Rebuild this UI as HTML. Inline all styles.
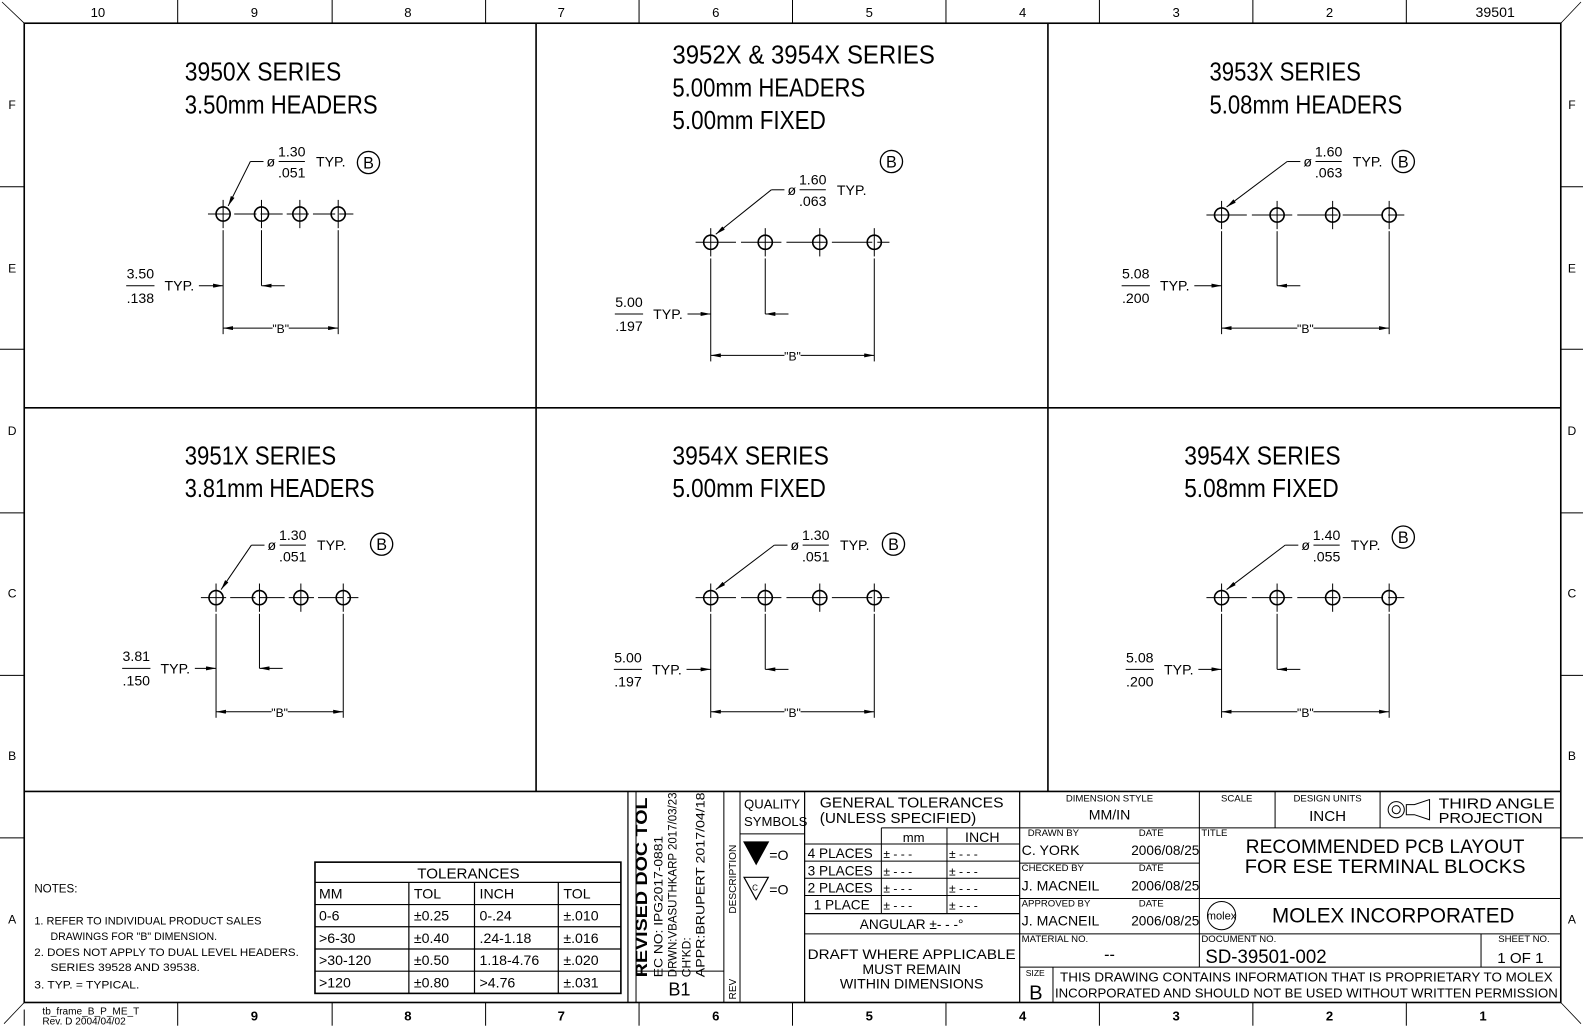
<!DOCTYPE html>
<html><head><meta charset="utf-8"><style>
html,body{margin:0;padding:0;background:#fff;}
svg{display:block}
text{font-family:"Liberation Sans Narrow","Liberation Sans",sans-serif;fill:#000;}
</style></head><body>
<svg id="s" width="1583" height="1026" viewBox="0 0 1568 1016.3" preserveAspectRatio="none" xmlns="http://www.w3.org/2000/svg">
<defs>
<marker id="ah" viewBox="0 0 10 4" refX="10" refY="2" markerWidth="10" markerHeight="4" markerUnits="userSpaceOnUse" orient="auto-start-reverse"><path d="M0,0 L10,2 L0,4 z" fill="#000"/></marker>
</defs>
<g id="g" stroke="#000" fill="none" stroke-width="1.2">
<rect x="24" y="23" width="1522" height="970" stroke-width="1.6"/>
<line x1="24" y1="23" x2="2" y2="2" stroke-width="0.8"/>
<line x1="1546" y1="23" x2="1566" y2="2" stroke-width="0.8"/>
<line x1="24" y1="993" x2="4" y2="1014" stroke-width="0.8"/>
<line x1="1546" y1="993" x2="1566" y2="1014" stroke-width="0.8"/>
<line x1="24" y1="404" x2="1546" y2="404" stroke-width="1.6"/>
<line x1="531" y1="23" x2="531" y2="784" stroke-width="1.6"/>
<line x1="1038" y1="23" x2="1038" y2="784" stroke-width="1.6"/>
<line x1="24" y1="784" x2="1546" y2="784" stroke-width="1.6"/>
</g>
</svg>
<script>
var s=document.getElementById('g'),NS="http://www.w3.org/2000/svg";
function el(t,a,txt,parent){var e=document.createElementNS(NS,t);for(var k in a)e.setAttribute(k,a[k]);if(txt!=null)e.textContent=txt;(parent||s).appendChild(e);return e;}
function L(x1,y1,x2,y2,w,extra){var a={x1:x1,y1:y1,x2:x2,y2:y2};if(w)a['stroke-width']=w;if(extra)for(var k in extra)a[k]=extra[k];return el('line',a);}
function T(x,y,t,fs,extra){var a={x:x,y:y,'font-size':fs||12,stroke:'none',fill:'#000'};if(extra)for(var k in extra)a[k]=extra[k];return el('text',a,t);}
var zx=[176,329,481,633,785,937,1089,1241,1393];
zx.forEach(function(x){L(x,0,x,23,1);L(x,993,x,1016,1);});
L(24,1000,24,1016,1);
var zl=['10','9','8','7','6','5','4','3','2'];var zc=[97,252,404,556,709,861,1013,1165,1317];
zl.forEach(function(t,i){T(zc[i],17,t,13,{'text-anchor':'middle'});if(i>0)T(zc[i],1011,t,13,{'text-anchor':'middle','font-weight':'bold'});});
T(1481,17,'39501',14,{'text-anchor':'middle'});
T(1469,1011,'1',13,{'text-anchor':'middle','font-weight':'bold'});
[185,346,508,669,830].forEach(function(y){L(0,y,24,y,1);L(1546,y,1568,y,1);});
var sl=['F','E','D','C','B','A'],sy=[108,270,431,592,753,915];
sl.forEach(function(t,i){T(12,sy[i],t,12,{'text-anchor':'middle'});T(1557,sy[i],t,12,{'text-anchor':'middle'});});
function panel(p){
 p.titles.forEach(function(t,i){T(p.tx,p.ty+i*32.5,t[0],26,{textLength:t[1],lengthAdjust:'spacingAndGlyphs'});});
 var xs=p.xs,y=p.y,x0=xs[0],xn=xs[3];
 L(x0-15,y,xn+15,y,1,{'stroke-dasharray':p.dash||'none'});
 xs.forEach(function(x){el('circle',{cx:x,cy:y,r:7,'stroke-width':1.6});L(x,y-14,x,y+14,1);});
 L(x0,y+16,x0,p.bY+6,1);L(xn,y+16,xn,p.bY+6,1);L(xs[1],y+16,xs[1],p.typY,1);
 L(x0,p.bY,(x0+xn)/2-8,p.bY,1,{'marker-start':'url(#ah)'});
 L((x0+xn)/2+8,p.bY,xn,p.bY,1,{'marker-end':'url(#ah)'});
 T((x0+xn)/2,p.bY+5,'"B"',12,{'text-anchor':'middle'});
 var fx=p.fx;
 T(fx+14,p.typY-7,p.t1,14,{'text-anchor':'middle'});L(fx,p.typY,fx+28,p.typY,1);T(fx+14,p.typY+17,p.t2,14,{'text-anchor':'middle'});
 T(fx+38,p.typY+5,'TYP.',14);
 L(fx+72,p.typY,x0,p.typY,1,{'marker-end':'url(#ah)'});
 L(xs[1]+23,p.typY,xs[1],p.typY,1,{'marker-end':'url(#ah)'});
 var lx=p.lx,ly=p.ly;
 L(lx,ly,x0+5,y-8,1,{'marker-end':'url(#ah)'});L(lx,ly,lx+13,ly,1);
 T(lx+16,ly+5,'\u00f8',14);
 T(lx+41,ly-5,p.d1,14,{'text-anchor':'middle'});L(lx+28,ly,lx+54,ly,1);T(lx+41,ly+16,p.d2,14,{'text-anchor':'middle'});
 T(lx+65,ly+5,'TYP.',14);
 el('circle',{cx:p.bx,cy:p.by,r:11,'stroke-width':1.3});T(p.bx,p.by+6,'B',16,{'text-anchor':'middle'});
}
var dsh='40 5';
panel({titles:[['3950X SERIES',155],['3.50mm HEADERS',191]],tx:183,ty:80,xs:[221,259,297,335],y:212,typY:283,bY:325,fx:125,t1:'3.50',t2:'.138',lx:248,ly:160,d1:'1.30',d2:'.051',bx:365,by:161,dash:'22 4'});
panel({titles:[['3952X & 3954X SERIES',260],['5.00mm HEADERS',191],['5.00mm FIXED',152]],tx:666,ty:63,xs:[704,758,812,866],y:240,typY:311,bY:352,fx:609,t1:'5.00',t2:'.197',lx:764,ly:188,d1:'1.60',d2:'.063',bx:883,by:160,dash:dsh});
panel({titles:[['3953X SERIES',150],['5.08mm HEADERS',191]],tx:1198,ty:80,xs:[1210,1265,1320,1376],y:213,typY:283,bY:325,fx:1111,t1:'5.08',t2:'.200',lx:1275,ly:160,d1:'1.60',d2:'.063',bx:1390,by:160,dash:dsh});
panel({titles:[['3951X SERIES',150],['3.81mm HEADERS',188]],tx:183,ty:460,xs:[214,257,298,340],y:592,typY:662,bY:705,fx:121,t1:'3.81',t2:'.150',lx:249,ly:540,d1:'1.30',d2:'.051',bx:378,by:539,dash:'25 4'});
panel({titles:[['3954X SERIES',155],['5.00mm FIXED',152]],tx:666,ty:460,xs:[704,758,812,866],y:592,typY:663,bY:705,fx:608,t1:'5.00',t2:'.197',lx:767,ly:540,d1:'1.30',d2:'.051',bx:885,by:539,dash:dsh});
panel({titles:[['3954X SERIES',155],['5.08mm FIXED',153]],tx:1173,ty:460,xs:[1210,1265,1320,1376],y:592,typY:663,bY:705,fx:1115,t1:'5.08',t2:'.200',lx:1273,ly:540,d1:'1.40',d2:'.055',bx:1390,by:532,dash:dsh});

T(34,884,'NOTES:',11.5);
T(34,916,'1. REFER TO INDIVIDUAL PRODUCT SALES',11,{textLength:225,lengthAdjust:'spacingAndGlyphs'});
T(50,931,'DRAWINGS FOR "B" DIMENSION.',11,{textLength:165,lengthAdjust:'spacingAndGlyphs'});
T(34,947,'2. DOES NOT APPLY TO DUAL LEVEL HEADERS.',11,{textLength:262,lengthAdjust:'spacingAndGlyphs'});
T(50,962,'SERIES 39528 AND 39538.',11,{textLength:148,lengthAdjust:'spacingAndGlyphs'});
T(34,979,'3. TYP. = TYPICAL.',11,{textLength:104,lengthAdjust:'spacingAndGlyphs'});
el('rect',{x:312,y:854,width:303,height:130,'stroke-width':1.6});
[874,896,918,940,962].forEach(function(y){L(312,y,615,y,1.2);});
[405,470,553].forEach(function(x){L(x,874,x,984,1.2);});
T(464,870,'TOLERANCES',15,{'text-anchor':'middle'});
var rows=[['MM','TOL','INCH','TOL'],['0-6','\u00b10.25','0-.24','\u00b1.010'],['>6-30','\u00b10.40','.24-1.18','\u00b1.016'],['>30-120','\u00b10.50','1.18-4.76','\u00b1.020'],['>120','\u00b10.80','>4.76','\u00b1.031']];
var cx=[316,410,475,558];
rows.forEach(function(r,i){r.forEach(function(t,j){T(cx[j],890+i*22,t,14);});});
L(622,784,622,993,1.2);L(630,784,630,993,1);
L(630,962,717,962,1);L(717,784,717,993,1);L(733,784,733,993,1);
T(0,0,'REVISED DOC TOL',16,{transform:'rotate(-90)',x:-968,y:641,textLength:178,lengthAdjust:'spacingAndGlyphs','font-weight':'bold'});
T(0,0,'EC NO: IPG2017-0881',12,{transform:'rotate(-90)',x:-968,y:656,textLength:140,lengthAdjust:'spacingAndGlyphs'});
T(0,0,'DRWN:VBASUTHKARP  2017/03/23',12,{transform:'rotate(-90)',x:-968,y:670,textLength:183,lengthAdjust:'spacingAndGlyphs'});
T(0,0,'CH\'KD:',12,{transform:'rotate(-90)',x:-968,y:684});
T(0,0,'APPR:BRUPERT         2017/04/18',12,{transform:'rotate(-90)',x:-968,y:698,textLength:183,lengthAdjust:'spacingAndGlyphs'});
T(0,0,'DESCRIPTION',10,{transform:'rotate(-90)',x:-905,y:729});
T(0,0,'REV',10,{transform:'rotate(-90)',x:-990,y:729});
T(673,986,'B1',18,{'text-anchor':'middle'});
L(733,826,797,826,1);
T(737,801,'QUALITY',13);T(737,818,'SYMBOLS',13);
el('path',{d:'M737,834 L761,834 L749,856 Z',fill:'#000'});T(762,852,'=O',14);
el('path',{d:'M737,869 L761,869 L749,891 Z'});T(745,882,'C',8);T(762,886,'=O',14);
L(797,784,797,993,1.2);
T(903,800,'GENERAL TOLERANCES',14.5,{'text-anchor':'middle',textLength:182,lengthAdjust:'spacingAndGlyphs'});
T(812,815,'(UNLESS SPECIFIED)',14.5,{textLength:155,lengthAdjust:'spacingAndGlyphs'});
L(873,820,1010,820,1);L(797,836,1010,836,1);
[853,870,887].forEach(function(y){L(797,y,1010,y,1);});
L(797,905,1010,905,1.2);L(797,925,1010,925,1);
L(873,820,873,905,1);L(938,820,938,905,1);
T(905,834,'mm',13,{'text-anchor':'middle'});T(973,834,'INCH',14,{'text-anchor':'middle'});
['4 PLACES','3 PLACES','2 PLACES','1 PLACE'].forEach(function(t,i){var y=850+i*17;T(i==3?806:800,y,t,13.5);T(875,y,'\u00b1 - - -',12);T(940,y,'\u00b1 - - -',12);});
T(903,920,'ANGULAR \u00b1- - -\u00b0',13.5,{'text-anchor':'middle'});
T(903,950,'DRAFT WHERE APPLICABLE',14,{'text-anchor':'middle',textLength:206,lengthAdjust:'spacingAndGlyphs'});
T(903,965,'MUST REMAIN',14,{'text-anchor':'middle'});
T(903,979,'WITHIN DIMENSIONS',14,{'text-anchor':'middle'});
L(1010,784,1010,993,1.2);
L(1188,784,1188,958,1);L(1263,784,1263,820,1);L(1367,784,1367,820,1);
L(1010,820,1546,820,1);L(1010,855,1188,855,1);L(1010,890,1546,890,1);L(1010,925,1546,925,1);L(1010,958,1546,958,1);
L(1043,958,1043,993,1);L(1467,925,1467,958,1);
T(1099,794,'DIMENSION STYLE',9.5,{'text-anchor':'middle'});T(1099,812,'MM/IN',14,{'text-anchor':'middle'});
T(1225,794,'SCALE',9.5,{'text-anchor':'middle'});
T(1315,794,'DESIGN UNITS',9.5,{'text-anchor':'middle'});T(1315,813,'INCH',15,{'text-anchor':'middle'});
el('circle',{cx:1383,cy:802,r:8,'stroke-width':1});el('circle',{cx:1383,cy:802,r:4,'stroke-width':1});
el('path',{d:'M1393,797 L1401,797 L1416,792 L1416,812 L1401,807 L1393,807 Z','stroke-width':1});
T(1425,801,'THIRD ANGLE',15,{textLength:115,lengthAdjust:'spacingAndGlyphs'});T(1425,815,'PROJECTION',15,{textLength:103,lengthAdjust:'spacingAndGlyphs'});
T(1018,828,'DRAWN BY',9.5);T(1128,828,'DATE',9.5);
T(1012,847,'C. YORK',14);T(1188,847,'2006/08/25',13.5,{'text-anchor':'end'});
T(1012,863,'CHECKED BY',9.5);T(1128,863,'DATE',9.5);
T(1012,882,'J. MACNEIL',14);T(1188,882,'2006/08/25',13.5,{'text-anchor':'end'});
T(1012,898,'APPROVED BY',9.5);T(1128,898,'DATE',9.5);
T(1012,917,'J. MACNEIL',14);T(1188,917,'2006/08/25',13.5,{'text-anchor':'end'});
T(1012,933,'MATERIAL NO.',9.5);T(1099,951,'--',16,{'text-anchor':'middle'});
T(1190,828,'TITLE',9.5);
T(1372,845,'RECOMMENDED PCB LAYOUT',19,{'text-anchor':'middle',textLength:276,lengthAdjust:'spacingAndGlyphs'});
T(1372,865,'FOR ESE TERMINAL BLOCKS',19,{'text-anchor':'middle',textLength:278,lengthAdjust:'spacingAndGlyphs'});
el('circle',{cx:1210,cy:907,r:14,'stroke-width':1});T(1210,911,'molex',11,{'text-anchor':'middle'});
T(1380,914,'MOLEX INCORPORATED',21,{'text-anchor':'middle',textLength:240,lengthAdjust:'spacingAndGlyphs'});
T(1190,933,'DOCUMENT NO.',9.5);T(1194,954,'SD-39501-002',19,{textLength:120,lengthAdjust:'spacingAndGlyphs'});
T(1535,933,'SHEET NO.',9.5,{'text-anchor':'end'});T(1506,954,'1 OF 1',15,{'text-anchor':'middle'});
T(1016,967,'SIZE',8.5);T(1026,990,'B',20,{'text-anchor':'middle'});
T(1294,972,'THIS DRAWING CONTAINS INFORMATION THAT IS PROPRIETARY TO MOLEX',12.5,{'text-anchor':'middle',textLength:488,lengthAdjust:'spacingAndGlyphs'});
T(1294,988,'INCORPORATED AND SHOULD NOT BE USED WITHOUT WRITTEN PERMISSION',12.5,{'text-anchor':'middle',textLength:498,lengthAdjust:'spacingAndGlyphs'});
T(42,1005,'tb_frame_B_P_ME_T',10);T(42,1015,'Rev. D 2004/04/02',10);
</script>
</body></html>
